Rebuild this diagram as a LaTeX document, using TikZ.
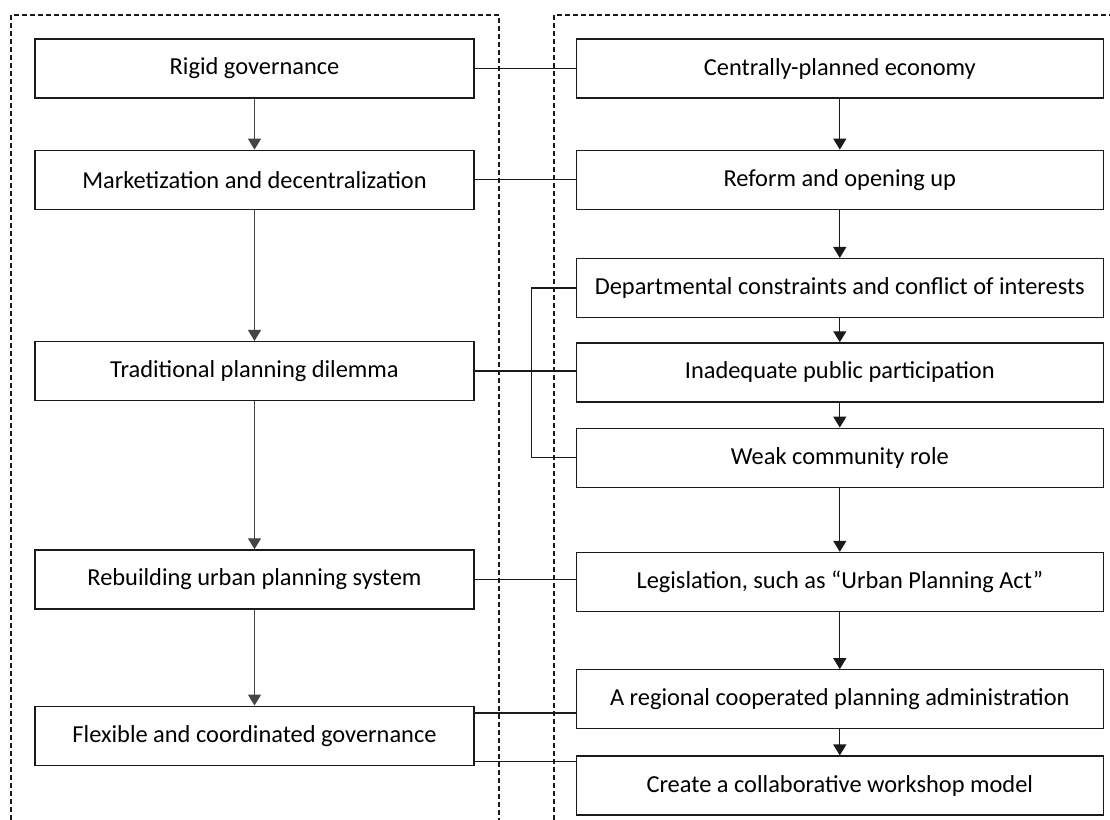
\documentclass[tikz,border=0pt]{standalone}
\usepackage{fontspec}
\setmainfont{Carlito}
\usetikzlibrary{arrows.meta,positioning}
\definecolor{ink}{HTML}{1A1A1A}
\definecolor{stem}{HTML}{444444}

\begin{document}
\begin{tikzpicture}[
  x=0.5pt, y=-0.5pt,
  font=\fontsize{12.2}{14}\selectfont,
  box/.style={draw=ink, line width=0.65pt, fill=white, align=center, minimum height=29.5pt, inner sep=2pt},
  lbox/.style={box, minimum width=219.5pt},
  rbox/.style={box, minimum width=263.5pt},
  flow/.style={-{Triangle[length=5.5pt,width=6.5pt]}, line width=0.65pt, draw=ink},
  lflow/.style={flow, draw=stem, fill=ink},
  link/.style={line width=0.65pt, draw=ink},
  frame/.style={dash pattern=on 2.3pt off 1.7pt, line width=0.6pt, draw=ink}
]
\useasboundingbox (0,0) rectangle (1110,820);

\draw[frame] (11,820) |- (499,15) -- (499,820);
\draw[frame] (554,820) |- (1110,15);

\node[lbox] (rigid) at (254.5,68.5) {Rigid governance};
\node[lbox,below=25.5pt of rigid] (market) {Marketization and decentralization};
\node[lbox,below=65.5pt of market] (trad) {Traditional planning dilemma};
\node[lbox,below=74pt of trad] (rebuild) {Rebuilding urban planning system};
\node[lbox,below=48pt of rebuild] (flex) {Flexible and coordinated governance};

\node[rbox,right=50.5pt of rigid] (central) {Centrally-planned economy};
\node[rbox,below=25.5pt of central] (reform) {Reform and opening up};
\node[rbox,below=24pt of reform] (dept) {Departmental constraints and conflict of interests};
\node[rbox,below=12pt of dept] (inad) {Inadequate public participation};
\node[rbox,below=12.5pt of inad] (weak) {Weak community role};
\node[rbox,below=32pt of weak] (legis) {Legislation, such as “Urban Planning Act”};
\node[rbox,below=28.5pt of legis] (region) {A regional cooperated planning administration};
\node[rbox,below=13pt of region] (workshop) {Create a collaborative workshop model};

\draw[lflow] (rigid) -- (market);
\draw[lflow] (market) -- (trad);
\draw[lflow] (trad) -- (rebuild);
\draw[lflow] (rebuild) -- (flex);

\draw[flow] (central) -- (reform);
\draw[flow] (reform) -- (dept);
\draw[flow] (dept) -- (inad);
\draw[flow] (inad) -- (weak);
\draw[flow] (weak) -- (legis);
\draw[flow] (legis) -- (region);
\draw[flow] (region) -- (workshop);

\draw[link] (rigid) -- (central);
\draw[link] (market) -- (reform);
\draw[link] (trad.east) -- (trad.east -| inad.west);
\draw[link] (rebuild.east) -- (rebuild.east -| legis.west);
\draw[link] (dept.west) -- ++(-44,0) |- (weak.west);

\coordinate (flexhi) at ([yshift=-3.75pt]flex.north east);
\coordinate (flexlo) at ([yshift=2.25pt]flex.south east);
\draw[link] (flexhi) -- (flexhi -| region.west);
\draw[link] (flexlo) -- (flexlo -| workshop.west);

\end{tikzpicture}
\end{document}
